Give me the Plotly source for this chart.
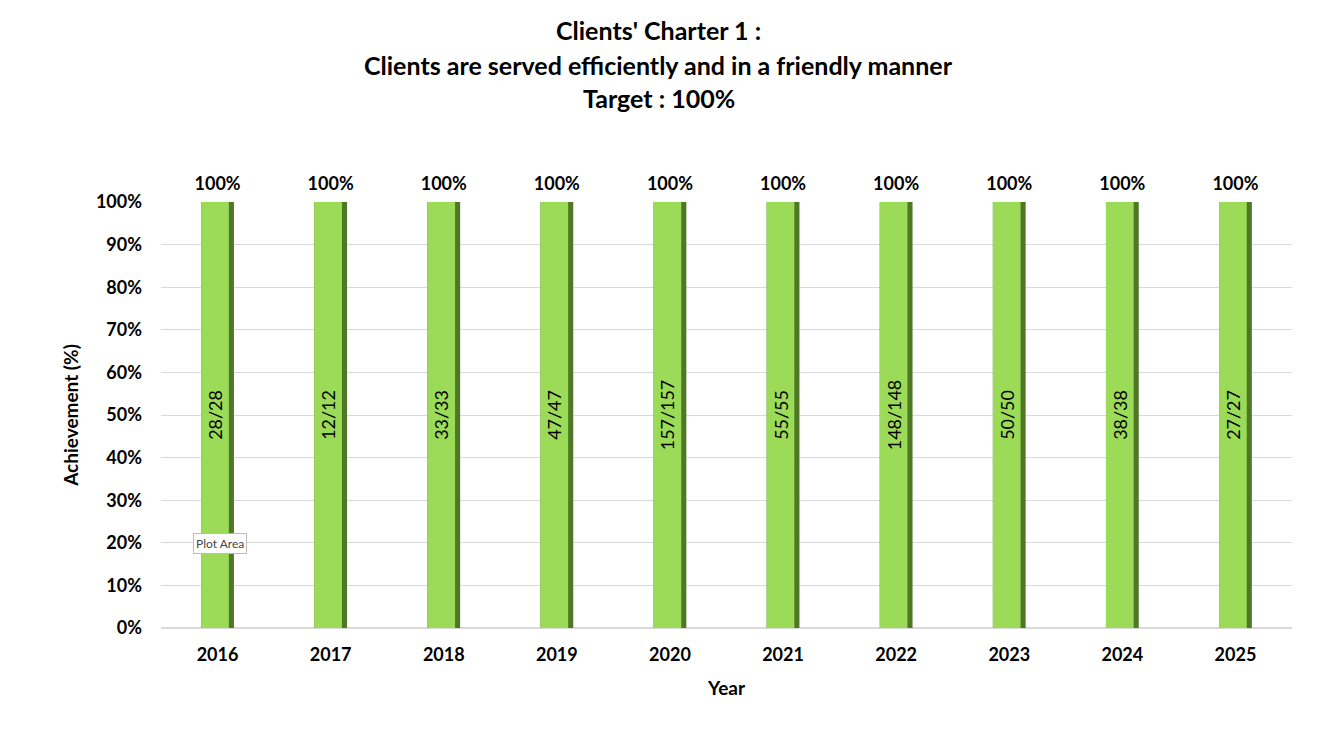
import plotly.graph_objects as go

years = ["2016", "2017", "2018", "2019", "2020", "2021", "2022", "2023", "2024", "2025"]
achievement = [100, 100, 100, 100, 100, 100, 100, 100, 100, 100]
counts = ["28/28", "12/12", "33/33", "47/47", "157/157", "55/55", "148/148", "50/50", "38/38", "27/27"]
top_labels = ["100%"] * len(years)
title_lines = ["Clients' Charter 1 :", "Clients are served efficiently and in a friendly manner", "Target : 100%"]

FONT = "Lato, Calibri, Open Sans, sans-serif"

fig = go.Figure()
# dark shadow edge of each bar
fig.add_trace(go.Bar(
    x=years, y=achievement, width=0.29,
    marker=dict(color="#4F7826", line=dict(width=0)),
    hoverinfo="skip", showlegend=False,
))
# main light green face
fig.add_trace(go.Bar(
    x=years, y=achievement, width=0.245, offset=-0.145,
    marker=dict(color="#9BDB58", line=dict(width=0)),
    text=counts, textposition="inside", textangle=-90,
    insidetextanchor="middle",
    textfont=dict(family=FONT, size=19, color="black"),
    showlegend=False,
))
# value labels above bars
fig.add_trace(go.Scatter(
    x=years, y=achievement, mode="markers+text", text=top_labels,
    textposition="top center",
    marker=dict(size=10, opacity=0),
    textfont=dict(family=FONT, size=18, color="black", weight="bold"),
    showlegend=False, hoverinfo="skip", cliponaxis=False,
))

title_y = [1.404, 1.322, 1.244]
annotations = [
    dict(text="<b>%s</b>" % t, x=0.44, y=yy, xref="paper", yref="paper",
         xanchor="center", yanchor="middle", showarrow=False,
         font=dict(family=FONT, size=25, color="black"))
    for t, yy in zip(title_lines, title_y)
]
annotations.append(dict(
    text="Plot Area", x=0.028, y=0.198, xref="paper", yref="paper",
    xanchor="left", yanchor="middle", showarrow=False,
    font=dict(family=FONT, size=12, color="#444444"),
    bgcolor="white", bordercolor="#BBBBBB", borderwidth=1, borderpad=2,
))

fig.update_layout(
    width=1342, height=733,
    barmode="overlay",
    paper_bgcolor="white", plot_bgcolor="white",
    margin=dict(l=153, r=58, t=194, b=113),
    font=dict(family=FONT, color="black"),
    xaxis=dict(
        title=dict(text="<b>Year</b>", font=dict(size=19), standoff=17),
        tickfont=dict(size=18, weight="bold"),
        ticklabelstandoff=14,
        range=[-0.5, 9.5],
        showgrid=False, showline=False, ticks="",
    ),
    yaxis=dict(
        title=dict(text="<b>Achievement (%)</b>", font=dict(size=19), standoff=12),
        range=[0, 100], dtick=10, ticksuffix="%",
        tickfont=dict(size=18, weight="bold"),
        ticklabelstandoff=18,
        showgrid=True, gridcolor="#D9D9D9", gridwidth=1,
        zeroline=True, zerolinecolor="#D9D9D9", ticks="",
    ),
    annotations=annotations,
)

fig.write_html("out.html")
